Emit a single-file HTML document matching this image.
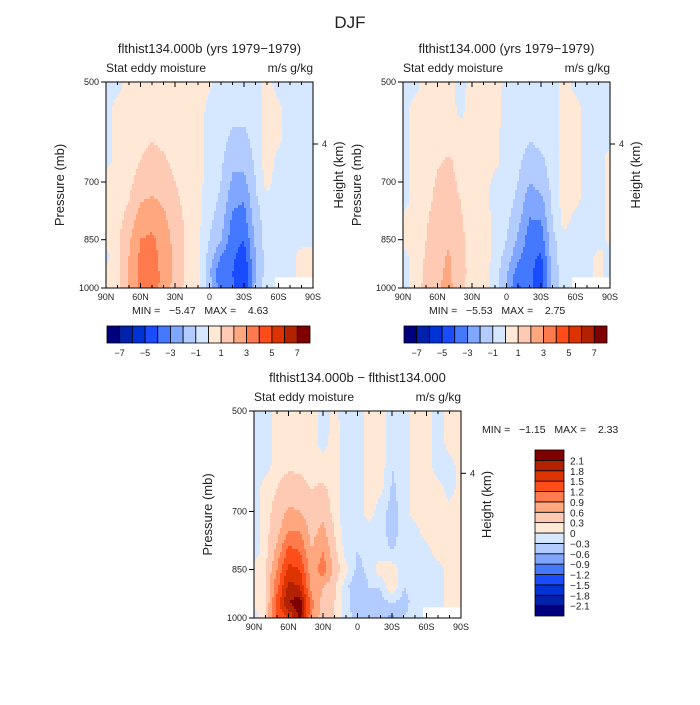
<!DOCTYPE html>
<html><head><meta charset="utf-8"><style>
body{margin:0;background:#fff}
svg text{font-family:"Liberation Sans",sans-serif;fill:#222;white-space:pre}
</style></head><body>
<svg id="s" width="700" height="700" viewBox="0 0 700 700" xmlns="http://www.w3.org/2000/svg">
<rect width="700" height="700" fill="#fff"/>
<text x="350" y="28" font-size="17" text-anchor="middle" fill="#444">DJF</text>
</svg>
<script>
const lats=[90,80,70,60,50,40,30,20,10,0,-10,-20,-30,-40,-50,-60,-70,-80,-90];
const levels=[500,550,600,650,700,750,800,850,900,950,1000];
const field1=[
[-0.5,-0.5,0.5,0.5,0.5,0.5,0.5,0.3,0.5,0.2,-0.5,-0.5,-0.5,-0.5,0.5,-0.5,-0.5,-0.5,-0.5],
[-0.5,0.5,0.5,0.5,0.6,0.6,0.5,0.5,0.5,-0.3,-0.5,-0.7,-0.7,-0.5,0.5,0.3,-0.5,-0.5,-0.5],
[-0.5,0.5,0.6,0.8,0.9,0.8,0.6,0.5,0.5,-0.5,-0.6,-1.2,-1.2,-0.6,0.5,0.3,-0.5,-0.5,-0.5],
[-0.5,0.5,0.7,1.0,1.3,1.1,0.8,0.5,0.4,-0.5,-0.8,-1.7,-1.7,-0.8,0.5,-0.3,-0.5,-0.5,-0.5],
[0.5,0.5,0.8,1.3,1.6,1.4,1.0,0.6,0.4,-0.5,-1.0,-2.2,-2.3,-1.0,0.4,-0.5,-0.5,-0.5,-0.5],
[0.5,0.6,1.0,2.0,2.2,1.9,1.3,0.7,0.3,-0.6,-1.2,-2.8,-3.0,-1.2,-0.5,-0.5,-0.5,-0.5,-0.5],
[0.5,0.7,1.4,2.6,2.7,2.3,1.5,0.8,0.3,-0.8,-1.5,-3.3,-3.5,-1.5,-0.5,-0.5,-0.5,-0.5,-0.5],
[0.5,0.8,1.8,3.0,3.2,2.5,1.7,0.8,0.3,-1.0,-2.0,-3.6,-4.0,-1.8,-0.5,-0.5,-0.5,-0.5,-0.5],
[-0.5,0.8,2.0,3.2,3.4,2.6,1.8,0.8,0.3,-1.5,-3.0,-3.8,-4.5,-2.0,-0.5,-0.5,-0.5,0.5,0.5],
[0.5,0.8,2.1,3.3,3.5,2.7,1.8,0.8,0.3,-1.8,-4.0,-4.0,-5.0,-2.0,-0.5,-0.5,-0.5,0.6,1.0],
[0.5,0.7,2.0,3.3,3.6,2.6,1.6,0.7,0.3,-1.5,-3.6,-3.8,-5.0,-1.8,-0.5,-0.5,-0.5,0.6,1.0]];
const field2=[
[-0.5,-0.5,0.5,0.5,0.5,-0.5,0.5,0.5,0.5,-0.3,-0.5,-0.5,-0.5,-0.5,0.5,-0.5,-0.5,-0.5,-0.5],
[-0.5,0.5,0.5,0.5,0.5,-0.3,0.5,0.5,0.5,-0.5,-0.5,-0.5,-0.5,-0.5,0.5,0.5,-0.5,-0.5,-0.5],
[-0.5,0.5,0.5,0.6,0.6,0.5,0.5,0.5,0.3,-0.5,-0.6,-0.9,-0.7,-0.5,0.5,0.5,-0.5,-0.5,-0.5],
[-0.5,0.5,0.6,0.9,1.1,0.7,0.5,0.5,0.3,-0.5,-0.8,-1.4,-1.2,-0.6,0.5,0.4,-0.5,-0.5,0.5],
[-0.5,0.5,0.7,1.1,1.3,0.8,0.5,0.4,-0.3,-0.5,-1.0,-2.0,-1.6,-0.7,0.5,0.4,-0.5,-0.5,0.5],
[-0.5,0.5,0.8,1.2,1.5,1.0,0.6,0.3,-0.3,-0.6,-1.3,-2.6,-2.4,-0.8,0.5,0.3,-0.5,-0.5,0.5],
[0.5,0.5,0.9,1.4,1.6,1.1,0.6,0.5,-0.3,-0.8,-1.7,-3.1,-3.0,-1.0,0.4,-0.5,-0.5,-0.5,0.3],
[0.5,0.5,1.0,1.6,1.9,1.2,0.7,0.6,-0.3,-1.0,-2.2,-3.5,-3.6,-1.2,-0.5,-0.5,-0.5,-0.5,0.3],
[-0.5,0.5,1.1,1.7,2.1,1.2,0.7,0.7,-0.5,-1.3,-2.8,-3.6,-4.2,-1.4,-0.5,-0.5,-0.5,0.4,-0.5],
[-0.5,0.5,1.2,1.8,2.2,1.3,0.7,0.5,-0.5,-1.8,-3.6,-3.6,-4.8,-1.5,-0.5,-0.5,-0.5,0.4,-0.5],
[-0.5,0.5,1.3,1.9,2.3,1.2,0.6,0.4,-0.5,-2.0,-4.2,-3.5,-4.8,-1.5,-0.5,-0.5,-0.5,0.3,-0.5]];
const field3=[
[-0.2,-0.2,0.2,0.2,0.2,0.2,-0.2,0.1,-0.2,-0.2,0.2,0.2,-0.2,-0.2,0.2,0.2,-0.2,0.2,0.2],
[-0.2,-0.2,0.2,0.2,0.2,0.2,-0.2,0.2,-0.2,-0.2,0.2,0.2,-0.2,-0.2,0.2,0.2,-0.2,0.2,0.2],
[-0.2,-0.2,0.2,0.25,0.25,0.2,0.2,0.2,-0.2,-0.2,0.2,0.2,-0.3,-0.2,0.2,0.2,-0.2,-0.2,0.2],
[-0.2,0.2,0.3,0.45,0.4,0.3,0.35,0.2,-0.2,-0.2,0.2,0.1,-0.35,-0.2,0.2,0.2,0.2,-0.2,0.2],
[-0.2,0.2,0.4,0.65,0.6,0.4,0.5,0.2,-0.2,-0.2,0.2,-0.2,-0.4,-0.2,0.2,0.2,0.2,0.2,0.2],
[-0.2,0.2,0.5,0.9,0.9,0.5,0.7,0.3,-0.2,-0.2,-0.2,-0.2,-0.4,-0.2,-0.2,0.2,0.2,0.2,0.2],
[-0.2,0.2,0.7,1.3,1.2,0.6,0.9,0.4,-0.1,-0.3,-0.2,-0.2,-0.3,-0.2,-0.2,-0.2,0.2,0.2,0.2],
[0.1,0.3,0.9,1.6,1.5,0.7,1.1,0.5,0.1,-0.4,-0.2,0.2,0.2,-0.2,-0.2,-0.2,-0.2,0.2,0.2],
[0.1,0.3,1.1,1.9,1.8,0.8,0.6,0.4,-0.2,-0.6,-0.3,-0.3,0.3,-0.3,-0.2,-0.2,-0.2,0.2,0.2],
[0.1,0.3,1.3,2.1,2.3,1.0,0.5,0.3,-0.2,-0.5,-0.5,-0.4,-0.3,-0.4,-0.2,-0.2,-0.2,0.2,0.2],
[-0.2,0.3,1.3,1.5,2.2,0.9,0.4,0.3,-0.2,-0.4,-0.4,-0.5,-0.7,-0.3,-0.2,-0.2,-0.2,0.2,0.2]];
const cbLevels1=[-7,-6,-5,-4,-3,-2,-1,0,1,2,3,4,5,6,7];
const cbLabels1=["-7","-5","-3","-1","1","3","5","7"];
const cbLevels3=[-2.1,-1.8,-1.5,-1.2,-0.9,-0.6,-0.3,0,0.3,0.6,0.9,1.2,1.5,1.8,2.1];
const cbLabels3=["-2.1","-1.8","-1.5","-1.2","-0.9","-0.6","-0.3","0","0.3","0.6","0.9","1.2","1.5","1.8","2.1"];
const colors=["#00007f","#0022aa","#0033d6","#1a4cff","#4479ff","#80a6ff","#b3ccff","#d6e8ff","#ffe8d6","#ffcab3","#ffa880","#ff7a4c","#ff4d1a","#dd3300","#b32200","#800000"];
const xLabels=["90N","60N","30N","0","30S","60S","90S"];
const pTicks=[500,700,850,1000];

const NS="http://www.w3.org/2000/svg";
const svg=document.getElementById('s');
function el(tag,attrs,parent){const e=document.createElementNS(NS,tag);for(const k in attrs)e.setAttribute(k,attrs[k]);(parent||svg).appendChild(e);return e;}
function txt(x,y,s,size,anchor,name,parent){const t=el('text',{x:x,y:y,'font-size':size,'text-anchor':anchor||'start'},parent);t.textContent=s;


return t;}
function interp(field,lat,p){
  let fx=(90-lat)/10, i=Math.max(0,Math.min(17,Math.floor(fx))), tx=Math.min(1,Math.max(0,fx-i));
  let j=0; while(j<levels.length-2&&p>levels[j+1])j++;
  let ty=Math.min(1,Math.max(0,(p-levels[j])/(levels[j+1]-levels[j])));
  const a=field[j][i],b=field[j][i+1],c=field[j+1][i],d=field[j+1][i+1];
  return (a*(1-tx)+b*tx)*(1-ty)+(c*(1-tx)+d*tx)*ty;
}
function bin(v,lv){let k=0;while(k<lv.length&&v>=lv[k])k++;return k;}
function panel(x0,y0,w,h,field,lv,title,name){
  const g=el('g',{});
  
  
  const L=Math.log(500),R=Math.log(2);
  const yOf=p=>y0+h*(Math.log(p)-L)/R;
  const xOf=lat=>x0+w*(90-lat)/180;
  const dy=3,dx=2;
  for(let y=0;y<h;y+=dy){
    const p=Math.exp(L+R*Math.min(h,y+dy/2)/h);
    const hh=Math.min(dy,h-y)+0.5;
    let start=0,cur=-1;
    for(let x=0;;x+=dx){
      const done=x>=w;
      let k=-1;
      if(!done){const lat=90-180*Math.min(w,x+dx/2)/w;k=bin(interp(field,lat,p),lv);}
      if(k!==cur){
        if(cur>=0){const r=el('rect',{x:x0+start,y:y0+y,width:Math.min(x,w)-start+(done?0:0.5),height:hh,fill:colors[cur]},g);
          
          }
        start=x;cur=k;
      }
      if(done)break;
    }
  }
  const m=el('rect',{x:xOf(-57),y:yOf(965),width:w*33/180,height:yOf(1000)-yOf(965),fill:'#fff'},g);
  
  
  el('rect',{x:x0,y:y0,width:w,height:h,fill:'none',stroke:'#000','stroke-width':1},g);
  for(let lat=90;lat>=-90;lat-=10){
    const x=xOf(lat),major=lat%30===0;
    const len=major?5:3;
    el('line',{x1:x,y1:y0+h,x2:x,y2:y0+h-len,stroke:'#000'},g);
    el('line',{x1:x,y1:y0,x2:x,y2:y0+len,stroke:'#000'},g);
  }
  xLabels.forEach((s,i)=>txt(xOf(90-30*i),y0+h+12,s,9,'middle','x-tick-label',g));
  pTicks.forEach(p=>{const y=yOf(p);el('line',{x1:x0-5,y1:y,x2:x0,y2:y,stroke:'#000'},g);txt(x0-7,y+3,String(p),9,'end','y-tick-label',g);});
  const yh=yOf(616);
  el('line',{x1:x0+w,y1:yh,x2:x0+w+5,y2:yh,stroke:'#000'},g);
  txt(x0+w+9,yh+3,'4',9,'start','height-tick-label',g);
  const yl=txt(0,0,'Pressure (mb)',13,'middle','y-axis-title',g);yl.setAttribute('transform',`translate(${x0-42},${y0+h/2}) rotate(-90)`);
  const hl=txt(0,0,'Height (km)',13,'middle','height-axis-title',g);hl.setAttribute('transform',`translate(${x0+w+30},${y0+h/2-10}) rotate(-90)`);
  txt(x0+w/2,y0-29,title,13,'middle','panel-title',g);
  txt(x0,y0-10,'Stat eddy moisture',12,'start','variable-label',g);
  txt(x0+w,y0-10,'m/s g/kg',12,'end','units-label',g);
}
function hbar(x0,y0,w,h,name){
  const g=el('g',{});
  
  
  const bw=w/16;
  colors.forEach((c,i)=>{const r=el('rect',{x:x0+i*bw,y:y0,width:bw,height:h,fill:c,stroke:'#000','stroke-width':0.8},g);
    
    });
  cbLabels1.forEach((s,i)=>txt(x0+bw*(1+2*i),y0+h+13,s.replace('-','\u2212'),9,'middle','colorbar-label',g));
}
panel(106,82,207,206,field1,cbLevels1,'flthist134.000b (yrs 1979\u22121979)','panel-model-b');
panel(403,82,207,206,field2,cbLevels1,'flthist134.000 (yrs 1979\u22121979)','panel-model');
panel(254,411,207,207,field3,cbLevels3,'flthist134.000b \u2212 flthist134.000','panel-difference');
txt(132,314,'MIN =   \u22125.47   MAX =    4.63',10.5,'start','min-max-1');
txt(429,314,'MIN =   \u22125.53   MAX =    2.75',10.5,'start','min-max-2');
txt(482,433,'MIN =   \u22121.15   MAX =    2.33',10.5,'start','min-max-3');
hbar(107,326,203,17,'colorbar-top-left');
hbar(404,326,203,17,'colorbar-top-right');
(function(){
  const g=el('g',{});
  
  
  const x0=535,y0=450,w=29,h=166,bh=h/16;
  colors.forEach((c,i)=>{const r=el('rect',{x:x0,y:y0+h-(i+1)*bh,width:w,height:bh,fill:c,stroke:'#000','stroke-width':0.8},g);
    
    });
  cbLabels3.forEach((s,i)=>txt(x0+w+6,y0+h-(i+1)*bh+4,s.replace('-','\u2212'),10,'start','colorbar-label',g));
})();
</script>
</body></html>
